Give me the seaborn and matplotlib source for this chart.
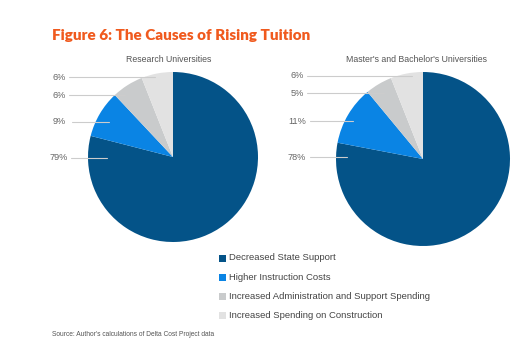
import matplotlib
matplotlib.use("Agg")
from matplotlib import pyplot as plt
import seaborn as sns

categories = [
    "Decreased State Support",
    "Higher Instruction Costs",
    "Increased Administration and Support Spending",
    "Increased Spending on Construction",
]
research_shares = [79, 9, 6, 6]
mb_shares = [78, 11, 5, 6]
pie_titles = ["Research Universities", "Master's and Bachelor's Universities"]
title = "Figure 6: The Causes of Rising Tuition"
source = "Source: Author's calculations of Delta Cost Project data"

sns.set_theme(style="white")
palette = sns.color_palette(["#045388", "#0a84e4", "#c9cbcc", "#e2e2e2"])

W, H = 529, 353
fig = plt.figure(figsize=(W / 100, H / 100), dpi=100)
ax = fig.add_axes([0, 0, 1, 1])


def py(y):
    # pixel row (top-down) -> data y
    return H - y


# layout of the two pies (pixels)
pies = [
    dict(shares=research_shares, cx=173, cy=157, r=85, title_x=169,
         lab_x=59, lab_y=[158, 122, 95, 77], line_x0=[71, 72, 69, 69], line_x1=[107, 109, 125, 155]),
    dict(shares=mb_shares, cx=423, cy=159, r=87, title_x=416,
         lab_x=297, lab_y=[157, 121, 93, 76], line_x0=[310, 310, 307, 307], line_x1=[347, 353, 384, 412]),
]

for p, t in zip(pies, pie_titles):
    ax.pie(p["shares"], colors=palette, startangle=90, counterclock=False,
           center=(p["cx"], py(p["cy"])), radius=p["r"],
           wedgeprops=dict(linewidth=0))
    ax.text(p["title_x"], py(60), t, ha="center", va="center",
            fontsize=6.3, color="#555555", family="Liberation Sans")
    for v, ly, x0, x1 in zip(p["shares"], p["lab_y"], p["line_x0"], p["line_x1"]):
        ax.text(p["lab_x"], py(ly), f"{v}%", ha="center", va="center",
                fontsize=6.6, color="#666666", family="Liberation Sans")
        ax.plot([x0, x1], [py(ly), py(ly)], color="#cccccc", lw=0.8, zorder=3)

ax.text(52, py(36), title, ha="left", va="center", fontsize=11,
        fontweight="heavy", color="#f05a1e", family="Lato")

# legend
for i, (c, lab) in enumerate(zip(palette, categories)):
    yy = 258 + i * 19.3
    ax.add_patch(plt.Rectangle((219, py(yy) - 3.5), 7, 7, color=c, lw=0))
    ax.text(229, py(yy), lab, ha="left", va="center", fontsize=6.8,
            color="#444444", family="Liberation Sans")

ax.text(52, py(334), source, ha="left", va="center", fontsize=4.75,
        color="#555555", family="Liberation Sans")

ax.set_xlim(0, W)
ax.set_ylim(0, H)
ax.set_aspect("auto")
ax.axis("off")

fig.savefig("out.png", dpi=100)
plt.close(fig)
